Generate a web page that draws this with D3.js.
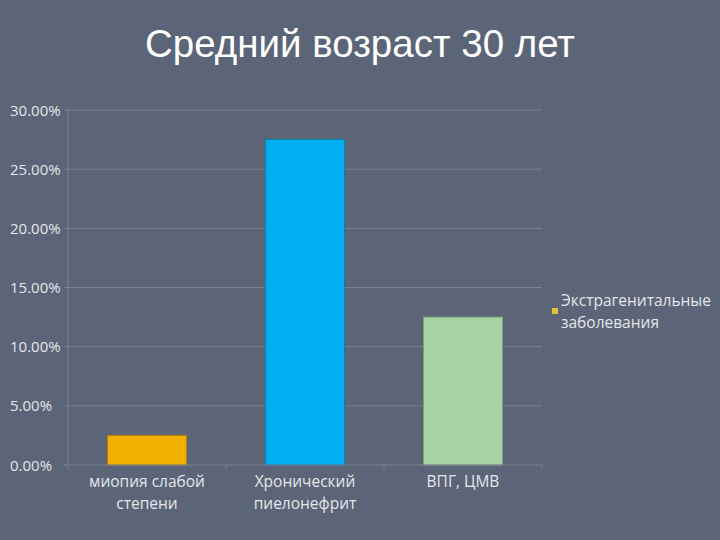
<!DOCTYPE html>
<html>
<head>
<meta charset="utf-8">
<title>Средний возраст 30 лет</title>
<script src="https://cdn.jsdelivr.net/npm/d3@7"></script>
<style>
  html, body { margin: 0; padding: 0; background: #5c6477; }
  svg { display: block; }
</style>
</head>
<body>
<script>
// data
var categories = [["миопия слабой", "степени"], ["Хронический", "пиелонефрит"], ["ВПГ, ЦМВ"]];
var values = [0.025, 0.275, 0.125];
var barColors = ["#f0b000", "#00b0f0", "#a6d5a3"];
var yTicks = [0, 0.05, 0.10, 0.15, 0.20, 0.25, 0.30];
var legendLabel = ["Экстрагенитальные", "заболевания"];
var title = "Средний возраст 30 лет";

var width = 720, height = 540;
var mLeft = 68, mRight = 542, mTop = 110, mBottom = 465;
var labelFont = "'Open Sans', Lato, sans-serif";

var svg = d3.select("body").append("svg")
    .attr("width", width)
    .attr("height", height);

svg.append("rect").attr("width", width).attr("height", height).attr("fill", "#5c6477");

// title
svg.append("text")
    .attr("x", 360).attr("y", 57)
    .attr("text-anchor", "middle")
    .attr("fill", "#ffffff")
    .style("font-family", "'Liberation Sans', Arial, sans-serif")
    .style("font-size", "38.5px")
    .text(title);

var x = d3.scaleBand().domain(d3.range(values.length)).range([mLeft, mRight]).paddingInner(0).paddingOuter(0);
var y = d3.scaleLinear().domain([0, 0.30]).range([mBottom, mTop]);

var fmt = d3.format(".2%");

// grid lines
svg.append("g").selectAll("line")
    .data(yTicks.slice(1))
    .enter().append("line")
    .attr("x1", mLeft).attr("x2", mRight)
    .attr("y1", function (d) { return y(d); })
    .attr("y2", function (d) { return y(d); })
    .attr("stroke", "#7a8193")
    .attr("stroke-width", 1);

// y labels
svg.append("g").selectAll("text")
    .data(yTicks)
    .enter().append("text")
    .attr("x", 10)
    .attr("y", function (d) { return y(d) + 5.5; })
    .attr("fill", "#e4e6ea")
    .style("font-family", labelFont)
    .style("font-size", "15px")
    .text(function (d) { return fmt(d); });

// bars
var bw = x.bandwidth() * 0.5;
svg.append("g").selectAll("rect")
    .data(values)
    .enter().append("rect")
    .attr("x", function (d, i) { return x(i) + (x.bandwidth() - bw) / 2; })
    .attr("y", function (d) { return y(d); })
    .attr("width", bw)
    .attr("height", function (d) { return y(0) - y(d); })
    .attr("fill", function (d, i) { return barColors[i]; })
    .attr("stroke", function (d, i) { return d3.color(barColors[i]).darker(0.8); })
    .attr("stroke-width", 1);

// axes lines
svg.append("line")
    .attr("x1", mLeft).attr("x2", mLeft).attr("y1", mTop).attr("y2", mBottom)
    .attr("stroke", "#7a8193");
svg.append("line")
    .attr("x1", mLeft - 4).attr("x2", mRight).attr("y1", mBottom).attr("y2", mBottom)
    .attr("stroke", "#7a8193");

// y tick marks
svg.append("g").selectAll("line")
    .data(yTicks)
    .enter().append("line")
    .attr("x1", mLeft - 4).attr("x2", mLeft)
    .attr("y1", function (d) { return y(d); })
    .attr("y2", function (d) { return y(d); })
    .attr("stroke", "#7a8193");

// x tick marks at band edges
svg.append("g").selectAll("line")
    .data(d3.range(values.length + 1))
    .enter().append("line")
    .attr("x1", function (i) { return mLeft + i * x.bandwidth(); })
    .attr("x2", function (i) { return mLeft + i * x.bandwidth(); })
    .attr("y1", mBottom).attr("y2", mBottom + 4)
    .attr("stroke", "#7a8193");

// category labels
var cat = svg.append("g").selectAll("text")
    .data(categories)
    .enter().append("text")
    .attr("text-anchor", "middle")
    .attr("fill", "#e4e6ea")
    .style("font-family", labelFont)
    .style("font-size", "15.5px");
cat.each(function (lines, i) {
    var t = d3.select(this);
    lines.forEach(function (s, k) {
        t.append("tspan")
            .attr("x", x(i) + x.bandwidth() / 2)
            .attr("y", 487 + k * 22)
            .text(s);
    });
});

// legend
svg.append("rect")
    .attr("x", 552).attr("y", 308)
    .attr("width", 6).attr("height", 6)
    .attr("fill", "#e6c23a");
var lg = svg.append("text")
    .attr("fill", "#e4e6ea")
    .style("font-family", labelFont)
    .style("font-size", "15.5px");
legendLabel.forEach(function (s, k) {
    lg.append("tspan").attr("x", 561).attr("y", 306 + k * 22).text(s);
});
</script>
</body>
</html>
